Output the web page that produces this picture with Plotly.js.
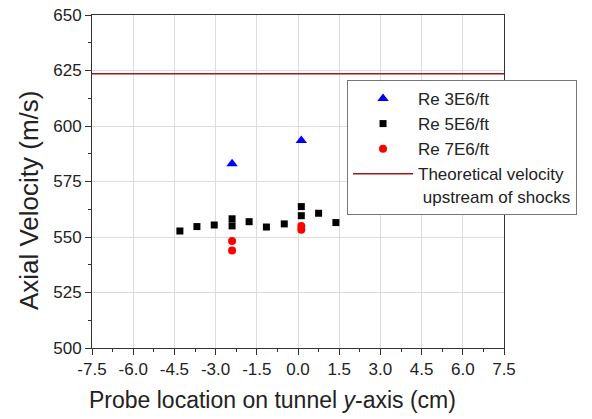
<!DOCTYPE html>
<html>
<head>
<meta charset="utf-8">
<script src="https://cdn.plot.ly/plotly-3.0.1.min.js"></script>
<style>html,body{margin:0;padding:0;background:#fff;}#chart{width:592px;height:419px;}</style>
</head>
<body>
<div id="chart"></div>
<script>
// Re 3E6/ft
const x3 = [-2.4, 0.12];
const y3 = [583.0, 593.5];
// Re 5E6/ft
const x5 = [-4.3, -3.68, -3.05, -2.4, -2.4, -1.78, -1.15, -0.5, 0.12, 0.12, 0.75, 1.38];
const y5 = [552.7, 554.7, 555.4, 558.2, 555.0, 556.9, 554.5, 555.9, 563.7, 559.6, 560.7, 556.5];
// Re 7E6/ft
const x7 = [-2.4, -2.4, 0.12, 0.12];
const y7 = [548.2, 543.9, 555.0, 553.3];
// Theoretical velocity upstream of shocks
const xTheory = [-7.5, 7.5];
const yTheory = [623.5, 623.5];

const xTickVals = [-7.5, -6.0, -4.5, -3.0, -1.5, 0.0, 1.5, 3.0, 4.5, 6.0, 7.5];
const xTickText = ["-7.5", "-6.0", "-4.5", "-3.0", "-1.5", "0.0", "1.5", "3.0", "4.5", "6.0", "7.5"];
const yTickVals = [500, 525, 550, 575, 600, 625, 650];

const xTitle = "Probe location on tunnel <i>y</i>-axis (cm)";
const yTitle = "Axial Velocity (m/s)";

const FONT = "Liberation Sans, Arial, sans-serif";

const traces = [
  {x: x3, y: y3, mode: "markers", type: "scatter", name: "Re 3E6/ft",
   marker: {symbol: "triangle-up", size: 10, color: "#0000ff"}},
  {x: x5, y: y5, mode: "markers", type: "scatter", name: "Re 5E6/ft",
   marker: {symbol: "square", size: 7, color: "#000000"}},
  {x: x7, y: y7, mode: "markers", type: "scatter", name: "Re 7E6/ft",
   marker: {symbol: "circle", size: 8, color: "#ff0000"}},
  {x: xTheory, y: yTheory, mode: "lines", type: "scatter",
   name: "Theoretical velocity<br>&nbsp;upstream of shocks",
   line: {color: "#a01818", width: 1.5}}
];

const layout = {
  width: 592, height: 419,
  margin: {l: 92, r: 88, t: 15, b: 71, autoexpand: false},
  paper_bgcolor: "#fff", plot_bgcolor: "#fff",
  font: {family: FONT, color: "#222"},
  showlegend: true,
  legend: {
    x: 0.619, y: 0.805, xanchor: "left", yanchor: "top",
    bgcolor: "#fff", bordercolor: "#777", borderwidth: 1,
    font: {family: FONT, size: 17, color: "#222"},
    itemwidth: 60, valign: "top", tracegroupgap: 0
  },
  xaxis: {
    range: [-7.5, 7.5], tickvals: xTickVals, ticktext: xTickText,
    ticks: "outside", ticklen: 6, tickcolor: "#333",
    showline: true, linecolor: "#333", linewidth: 1, mirror: true,
    showgrid: true, gridcolor: "#dcdcdc", gridwidth: 1, zeroline: false,
    tickfont: {family: FONT, size: 17, color: "#222"},
    minor: {dtick: 0.75, tick0: -7.5, ticks: "outside", ticklen: 3, tickcolor: "#333", showgrid: false},
    automargin: false
  },
  yaxis: {
    range: [500, 650], tickvals: yTickVals,
    ticks: "outside", ticklen: 6, tickcolor: "#333",
    showline: true, linecolor: "#333", linewidth: 1, mirror: true,
    showgrid: true, gridcolor: "#dcdcdc", gridwidth: 1, zeroline: false,
    tickfont: {family: FONT, size: 17, color: "#222"},
    minor: {dtick: 12.5, tick0: 500, ticks: "outside", ticklen: 3, tickcolor: "#333", showgrid: false},
    automargin: false
  },
  annotations: [
    {text: xTitle, xref: "paper", yref: "paper", x: 0.439, y: -0.156,
     xanchor: "center", yanchor: "middle", showarrow: false,
     font: {family: FONT, size: 23, color: "#222"}},
    {text: yTitle, xref: "paper", yref: "paper", x: -0.153, y: 0.444,
     xanchor: "center", yanchor: "middle", showarrow: false, textangle: -90,
     font: {family: FONT, size: 26, color: "#222"}}
  ]
};

Plotly.newPlot("chart", traces, layout, {staticPlot: true, displayModeBar: false});
</script>
</body>
</html>
